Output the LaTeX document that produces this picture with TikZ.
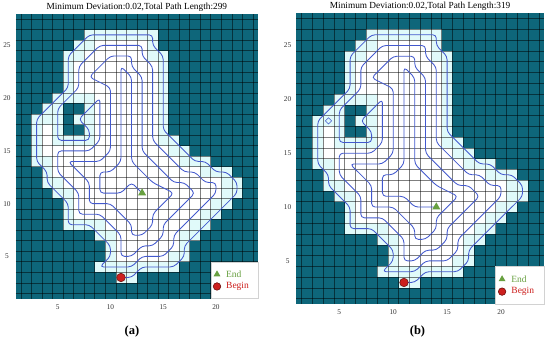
\documentclass[tikz,border=0pt]{standalone}
\usepackage{fontspec}
\setmainfont{Liberation Serif}
\usetikzlibrary{shapes.geometric}
\definecolor{obst}{RGB}{14,102,122}
\definecolor{pale}{RGB}{224,250,250}
\definecolor{pathblue}{RGB}{66,88,205}
\definecolor{endgreen}{RGB}{104,160,64}
\definecolor{beginred}{RGB}{205,32,30}

% free cells per row Y (index 0..28): leftmost and rightmost free column
\def\Lrow{{99,99,99,11,9,10,10,9,6,6,6,5,4,4,3,3,3,3,3,4,5,6,6,6,6,7,8,99,99}}
\def\Rrow{{-99,-99,-99,12,16,17,17,18,19,20,21,22,22,21,19,17,16,15,15,15,15,15,15,15,15,14,14,-99,-99}}

% coverage route, shared part of both panels
\def\routecore{(11,3) -- (12,3) -- (13,4) -- (16,4) -- (17,5) -- (17,6) -- (18,7) -- (19,8) -- (20,9) -- (21,10) -- (22,11) -- (22,12) -- (21,13) -- (20,13) -- (19,14) -- (18,14) -- (17,15) -- (16,16) -- (15,17) -- (15,24) -- (14,25) -- (14,26) -- (8,26) -- (7,25) -- (6,24) -- (6,21) -- (5,20) -- (4,19) -- (3,18) -- (3,14) -- (4,13) -- (4,12) -- (5,11) -- (6,10) -- (6,8) -- (8,8) -- (9,7) -- (10,6) -- (10,5) -- (9,4) -- (12,4) -- (13,5) -- (15,5) -- (16,6) -- (16,7) -- (17,8) -- (18,9) -- (19,10) -- (20,11) -- (20,12) -- (19,12) -- (18,13) -- (17,13) -- (16,14) -- (15,15) -- (14,16) -- (14,23) -- (13,24) -- (13,25) -- (9,25) -- (8,24) -- (7,23) -- (7,21) -- (6,20) -- (5,19) -- (5,16) -- (8,16) -- (8,17) -- (7,18) -- (8,19) -- (9,20) -- (9,16) -- (8,15) -- (5,15) -- (5,13) -- (6,12) -- (7,11) -- (7,9) -- (9,9) -- (10,8) -- (11,7) -- (11,5) -- (12,5) -- (13,6) -- (14,6) -- (15,7) -- (15,8) -- (16,9) -- (17,10) -- (18,11) -- (17,12) -- (16,12) -- (15,13) -- (14,14) -- (13,15) -- (13,22) -- (12,23) -- (12,24) -- (10,24) -- (9,23) -- (8,22) -- (10,21) -- (10,15) -- (9,14) -- (6,14) -- (7,13) -- (8,12) -- (8,10) -- (10,10) -- (11,9) -- (12,8) -- (12,7) -- (13,7) -- (14,8) -- (14,9) -- (15,10) -- (16,11) -- (14,12) -- (13,13) -- (12,14) -- (12,22) -- (11,23) -- (11,14) -- (10,13) -- (9,13) -- (9,11) -- (11,11)}

% map, grid, ticks, legend and title of one panel (data coordinates)
\newcommand{\drawpanel}[2]{%
  \fill[obst] (1,1) rectangle (24,28);
  \foreach \yy in {3,...,26}{
    \pgfmathtruncatemacro\ym{\yy-1}
    \pgfmathtruncatemacro\yp{\yy+1}
    \pgfmathtruncatemacro\mL{\Lrow[\yy]}
    \pgfmathtruncatemacro\mR{\Rrow[\yy]}
    \pgfmathtruncatemacro\mLm{\Lrow[\ym]}
    \pgfmathtruncatemacro\mLp{\Lrow[\yp]}
    \pgfmathtruncatemacro\mRm{\Rrow[\ym]}
    \pgfmathtruncatemacro\mRp{\Rrow[\yp]}
    \pgfmathtruncatemacro\mA{max(\mLm,\mL,\mLp)+1}
    \pgfmathtruncatemacro\mB{min(\mRm,\mR,\mRp)-1}
    \fill[pale] (\mL-0.5,\yy-0.5) rectangle (\mR+0.5,\yy+0.5);
    \ifnum\mA>\mB\else
      \fill[white] (\mA-0.5,\yy-0.5) rectangle (\mB+0.5,\yy+0.5);
    \fi
  }
  % obstacle inside the free area
  \fill[pale] (4.5,15.5) rectangle (8.5,20.5);
  \fill[obst] (5.5,18.5) rectangle (7.5,19.5);
  \fill[obst] (5.5,17.5) rectangle (6.5,18.5);
  \fill[obst] (5.5,16.5) rectangle (7.5,17.5);
  \foreach \gx in {1.5,2.5,...,23.5} \draw[gridline] (\gx,1) -- (\gx,28);
  \foreach \gy in {1.5,2.5,...,27.5} \draw[gridline] (1,\gy) -- (24,\gy);
  \foreach \t in {5,10,15,20}
    \node[ticklbl, yshift=-8.2pt] (#1x\t) at (\t,1) {\t};
  \foreach \t in {5,10,15,20,25}
    \node[ticklbl, xshift=-8.6pt] (#1y\t) at (1,\t) {\t};
  % legend
  \fill[white, draw=gray!35, line width=0.3pt] (19.5,1) rectangle (24,4.5);
  \node[endmark, minimum size=8pt] (#1legend) at (20.1,3.3) {};
  \node[legtext, text=endgreen] (#1legendtxt) at (20.95,3.3) {End};
  \node[beginmark, minimum size=7.5pt] (#1legbegin) at (20.1,2.15) {};
  \node[legtext, text=beginred] (#1legbegintxt) at (20.95,2.15) {Begin};
  \node[titlelbl, yshift=6.7pt] (#1title) at (12.5,28) {Minimum Deviation:0.02,Total Path Length:#2};
}

\begin{document}
\begin{tikzpicture}[x=1pt, y=1pt,
    every node/.style={font=\fontsize{7.3}{8}\selectfont},
    gridline/.style={black, opacity=0.5, line width=0.45pt},
    routeline/.style={draw=pathblue, line width=0.85pt, rounded corners=3.6pt, line join=round},
    beginmark/.style={circle, fill=beginred, draw=beginred!55!black, line width=0.6pt,
                      minimum size=8.5pt, inner sep=0pt},
    endmark/.style={regular polygon, regular polygon sides=3, fill=endgreen,
                    minimum size=9.5pt, inner sep=0pt},
    ticklbl/.style={inner sep=0pt, text=black!80},
    legtext/.style={font=\fontsize{9.5}{11}\selectfont, anchor=west, inner sep=0pt},
    titlelbl/.style={font=\fontsize{9.3}{11}\selectfont, inner sep=0pt},
    caplbl/.style={font=\fontsize{12.5}{14}\selectfont\bfseries, inner sep=0pt}]

  \fill[white] (0,0) rectangle (550,343);
  \useasboundingbox (0,0) rectangle (550,343);

  % panel (a)
  \begin{scope}[shift={(4.95pt,33.85pt)}, x=10.55pt, y=10.55pt]
    \drawpanel{a}{299}
    \draw[routeline] \routecore -- (12,12) -- (13,11);
    \node[endmark] (enda) at (13,11) {};
    \node[beginmark] (begina) at (11,3) {};
  \end{scope}

  % panel (b)
  \begin{scope}[shift={(285.4pt,28.23pt)}, x=10.78pt, y=10.77pt]
    \drawpanel{b}{319}
    \draw[routeline] \routecore -- (12,10) -- (14,10);
    \node[diamond, draw=pathblue, line width=0.6pt, minimum size=6.5pt, inner sep=0pt] (turnb) at (4,18) {};
    \node[endmark] (endb) at (14,10) {};
    \node[beginmark] (beginb) at (11,3) {};
  \end{scope}

  \node[caplbl] (capa) at (132,11.3) {(a)};
  \node[caplbl] (capb) at (417.5,11.3) {(b)};
\end{tikzpicture}
\end{document}
